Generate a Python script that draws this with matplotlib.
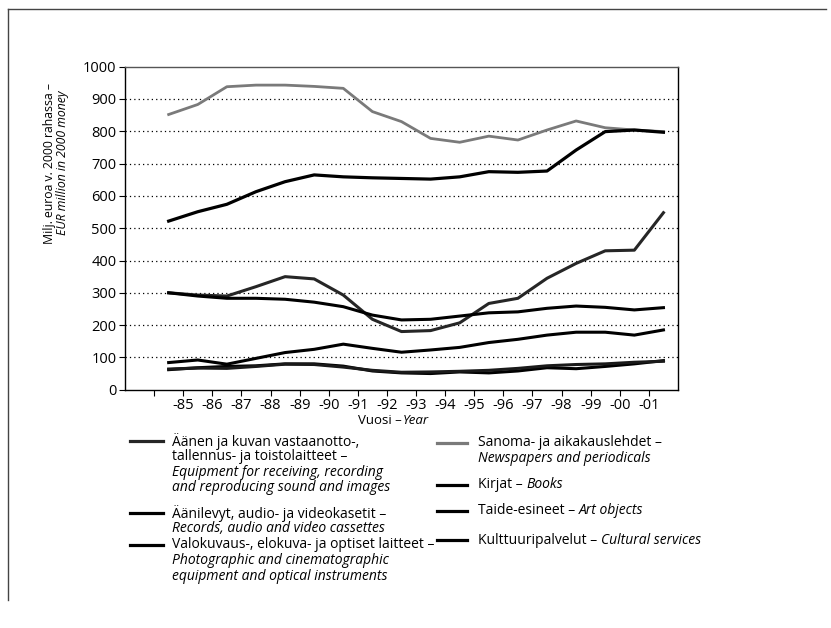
import numpy as np
import matplotlib.pyplot as plt
from matplotlib.lines import Line2D

plt.rcParams['font.family'] = ['Open Sans', 'DejaVu Sans']

W, H = 831, 628

# data (million EUR, 2000 money), plotted at mid-year
years = np.arange(1984, 2002)
tick_labels = ['-85', '-86', '-87', '-88', '-89', '-90', '-91', '-92', '-93',
               '-94', '-95', '-96', '-97', '-98', '-99', '-00', '-01']
sanoma = [852, 883, 938, 943, 943, 939, 933, 861, 830, 778, 766, 785, 773, 804, 832, 811, 804, 799]
kirjat = [522, 551, 574, 613, 644, 665, 659, 656, 654, 652, 659, 675, 673, 677, 742, 799, 804, 797]
aanen = [300, 293, 290, 319, 350, 343, 293, 218, 180, 183, 207, 267, 283, 345, 391, 430, 432, 548]
valokuvaus = [300, 290, 283, 283, 280, 271, 257, 231, 216, 218, 228, 238, 241, 252, 259, 255, 247, 254]
aanilevyt = [84, 92, 79, 97, 115, 125, 141, 128, 116, 123, 131, 146, 156, 169, 178, 178, 169, 185]
taide = [62, 68, 72, 74, 80, 80, 73, 58, 52, 50, 55, 52, 58, 68, 65, 72, 80, 90]
kulttuuri = [64, 67, 66, 72, 79, 78, 70, 60, 54, 55, 57, 60, 66, 74, 78, 80, 85, 88]

fig = plt.figure(figsize=(W / 100, H / 100), dpi=100)

def fx(px):
    return px / W

def fy(py):
    return 1 - py / H

ax = fig.add_axes([fx(125), fy(389.7), 553 / W, 323 / H])
x = years + 0.5

ax.plot(x, sanoma, color='#7a7a7a', lw=2.0, zorder=3)
ax.plot(x, kirjat, color='black', lw=2.3, zorder=3)
ax.plot(x, aanen, color='#262626', lw=2.2, zorder=3)
ax.plot(x, valokuvaus, color='black', lw=2.2, zorder=3)
ax.plot(x, aanilevyt, color='black', lw=2.2, zorder=3)
ax.plot(x, taide, color='black', lw=2.2, zorder=3)
ax.plot(x, kulttuuri, color='#1a1a1a', lw=2.2, zorder=3)

for v in range(100, 1000, 100):
    ax.axhline(v, color='black', lw=0.9, ls=(0, (1, 2.5)), zorder=1)

ax.set_xlim(1983, 2002)
ax.set_ylim(0, 1000)
ax.set_yticks(range(0, 1001, 100))
ax.set_xticks(np.arange(1984, 2002))
ax.set_xticklabels([''] + tick_labels)
ax.tick_params(direction='out', length=4, width=0.8, labelsize=10.5, pad=2)
for s in ax.spines.values():
    s.set_linewidth(1.0)
ax.spines['top'].set_color('#555555')

# axis titles
fig.text(fx(50), fy(163), 'Milj. euroa v. 2000 rahassa –', rotation=90,
         ha='center', va='center', fontsize=8.8)
fig.text(fx(63), fy(163), 'EUR million in 2000 money', rotation=90,
         ha='center', va='center', fontsize=8.8, style='italic')
fig.text(fx(402), fy(421), 'Vuosi –', ha='right', va='center', fontsize=9.5)
fig.text(fx(403), fy(421), 'Year', ha='left', va='center', fontsize=9.5, style='italic')

# legend drawn by hand, two columns
FS = 10
left_entries = [
    ('#262626', [('Äänen ja kuvan vastaanotto-,', 'normal'),
                 ('tallennus- ja toistolaitteet –', 'normal'),
                 ('Equipment for receiving, recording', 'italic'),
                 ('and reproducing sound and images', 'italic')], 441),
    ('black', [('Äänilevyt, audio- ja videokasetit –', 'normal'),
               ('Records, audio and video cassettes', 'italic')], 513),
    ('black', [('Valokuvaus-, elokuva- ja optiset laitteet –', 'normal'),
               ('Photographic and cinematographic', 'italic'),
               ('equipment and optical instruments', 'italic')], 545),
]
right_entries = [
    ('#7a7a7a', [('Sanoma- ja aikakauslehdet –', 'normal'),
                 ('Newspapers and periodicals', 'italic')], 443),
    ('black', [('Kirjat – ', 'normal'), ('Books', 'italic')], 485),
    ('black', [('Taide-esineet – ', 'normal'), ('Art objects', 'italic')], 511),
    ('black', [('Kulttuuripalvelut – ', 'normal'), ('Cultural services', 'italic')], 540),
]

def draw_entry(color, lines, y0, mx0, mx1, tx, inline=False):
    fig.add_artist(Line2D([fx(mx0), fx(mx1)], [fy(y0), fy(y0)], color=color, lw=2.3))
    if inline:
        t = fig.text(fx(tx), fy(y0), lines[0][0], ha='left', va='center',
                     fontsize=FS, style=lines[0][1])
        fig.canvas.draw()
        bb = t.get_window_extent()
        fig.text(bb.x1 / W, fy(y0), lines[1][0], ha='left', va='center',
                 fontsize=FS, style=lines[1][1])
    else:
        for k, (txt, st) in enumerate(lines):
            fig.text(fx(tx), fy(y0 + k * 15.5), txt, ha='left', va='center',
                     fontsize=FS, style=st)

for color, lines, y0 in left_entries:
    draw_entry(color, lines, y0, 130, 163, 172)
for color, lines, y0 in right_entries:
    draw_entry(color, lines, y0, 437, 467, 478, inline=(len(lines) == 2 and y0 > 470))

# page frame
fig.add_artist(Line2D([fx(8), fx(826)], [fy(9), fy(9)], color='#444444', lw=1.0))
fig.add_artist(Line2D([fx(8), fx(8)], [fy(9), fy(600)], color='#444444', lw=1.0))

fig.savefig('out.png', dpi=100)
